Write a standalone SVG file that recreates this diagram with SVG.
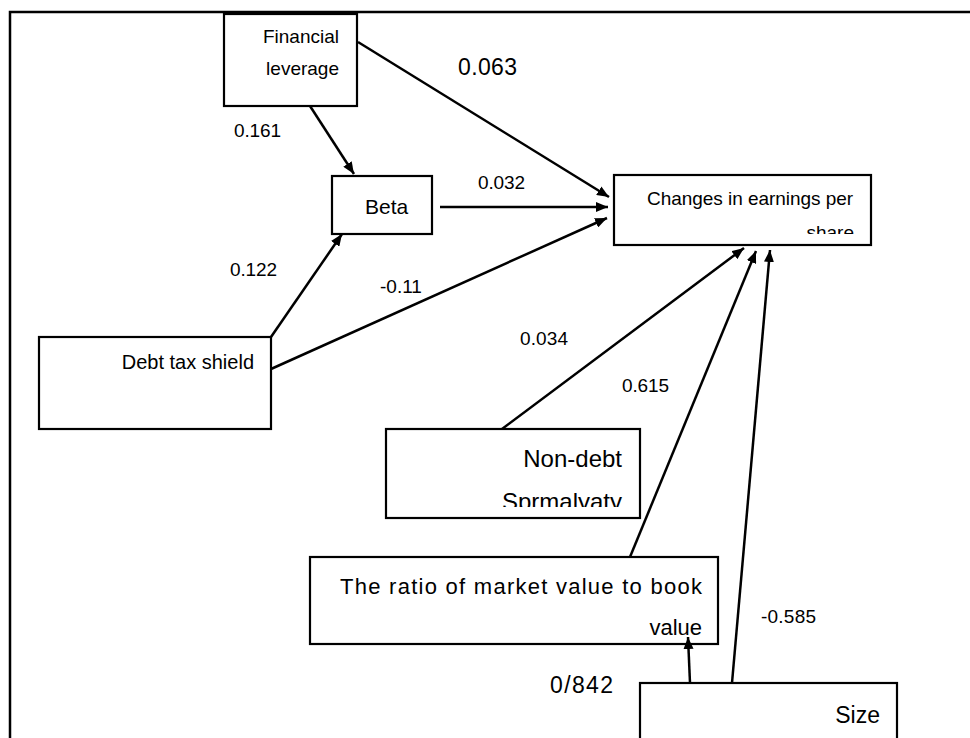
<svg xmlns="http://www.w3.org/2000/svg" width="970" height="738" viewBox="0 0 970 738">
<style>
.box{fill:#fff;stroke:#000;stroke-width:2.2}
.t{font-family:"Liberation Sans",Arial,sans-serif;fill:#000}
.lbl{font-family:"Liberation Sans",Arial,sans-serif;fill:#000;font-size:19px}
.c{fill:none;stroke:#000;stroke-width:2.5;marker-end:url(#ah)}
</style>
<defs>
<marker id="ah" viewBox="0 0 12 10" refX="12" refY="5" markerWidth="12" markerHeight="10" markerUnits="userSpaceOnUse" orient="auto">
<path d="M0,0 L12,5 L0,10 Z" fill="#000"/>
</marker>
<clipPath id="clipCh"><rect x="614" y="175" width="257" height="59"/></clipPath>
<clipPath id="clipNd"><rect x="386" y="429" width="254" height="78"/></clipPath>
</defs>
<rect x="0" y="0" width="970" height="738" fill="#fff"/>
<path d="M10,738 V12 H970" fill="none" stroke="#000" stroke-width="2.5"/>

<g id="financial-leverage">
<rect class="box" x="224" y="14" width="133" height="92"/>
<text class="t" x="339" y="43" font-size="19" text-anchor="end">Financial</text>
<text class="t" x="339" y="75" font-size="19" text-anchor="end">leverage</text>
</g>
<g id="beta">
<rect class="box" x="332" y="176" width="100" height="58"/>
<text class="t" x="365" y="214" font-size="21">Beta</text>
</g>
<g id="changes-eps">
<rect class="box" x="614" y="175" width="257" height="70"/>
<g clip-path="url(#clipCh)">
<text class="t" x="853" y="205" font-size="19" text-anchor="end" textLength="206" lengthAdjust="spacing">Changes in earnings per</text>
<text class="t" x="854" y="239" font-size="19" text-anchor="end">share</text>
</g>
</g>
<g id="debt-tax-shield">
<rect class="box" x="39" y="337" width="232" height="92"/>
<text class="t" x="254" y="369" font-size="20" text-anchor="end">Debt tax shield</text>
</g>
<g id="non-debt">
<rect class="box" x="386" y="429" width="254" height="89"/>
<g clip-path="url(#clipNd)">
<text class="t" x="622" y="467" font-size="24" text-anchor="end">Non-debt</text>
<text class="t" x="622" y="510" font-size="24" text-anchor="end">Sprmalyaty</text>
</g>
</g>
<g id="ratio-mv-bv">
<rect class="box" x="310" y="557" width="408" height="87"/>
<text class="t" x="702" y="594" font-size="22" text-anchor="end" textLength="362" lengthAdjust="spacing">The ratio of market value to book</text>
<text class="t" x="702" y="635" font-size="22" text-anchor="end">value</text>
</g>
<g id="size">
<rect class="box" x="640" y="683" width="257" height="70"/>
<text class="t" x="880" y="723" font-size="23" text-anchor="end">Size</text>
</g>

<g id="connectors">
<path class="c" d="M358,42 L609,197"/>
<path class="c" d="M440,207 L608,207"/>
<path class="c" d="M271,369 L607,218"/>
<path class="c" d="M310,106 L354,174"/>
<path class="c" d="M271,337 L342,234"/>
<path class="c" d="M502,429 L744,248"/>
<path class="c" d="M630,557 L756,251"/>
<path class="c" d="M732,683 L770,250"/>
<path class="c" d="M690,683 L688,637"/>
</g>

<g id="labels">
<text class="lbl" x="234" y="137" textLength="47" lengthAdjust="spacing">0.161</text>
<text class="lbl" x="230" y="276" textLength="47" lengthAdjust="spacing">0.122</text>
<text class="lbl" x="380" y="293">-0.11</text>
<text class="lbl" x="458" y="75" style="font-size:23px" textLength="59" lengthAdjust="spacing">0.063</text>
<text class="lbl" x="478" y="189" textLength="47" lengthAdjust="spacing">0.032</text>
<text class="lbl" x="520" y="345" textLength="48" lengthAdjust="spacing">0.034</text>
<text class="lbl" x="622" y="392" textLength="47" lengthAdjust="spacing">0.615</text>
<text class="lbl" x="761" y="623" textLength="55" lengthAdjust="spacing">-0.585</text>
<text class="lbl" x="550" y="693" style="font-size:23px" textLength="63" lengthAdjust="spacing">0/842</text>
</g>
</svg>
